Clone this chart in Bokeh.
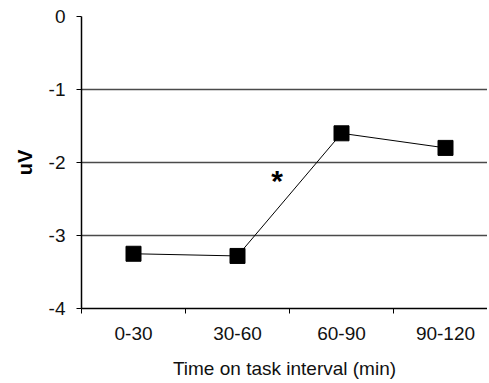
from bokeh.plotting import figure
from bokeh.models import Range1d, FixedTicker, ColumnDataSource, Label
from bokeh.embed import file_html
from bokeh.resources import INLINE

categories = ["0-30", "30-60", "60-90", "90-120"]
values = [-3.25, -3.28, -1.6, -1.8]
y_ticks = [0, -1, -2, -3, -4]
y_tick_labels = ["0", "-1", "-2", "-3", "-4"]

xpos = [i + 0.5 for i in range(len(categories))]
src = ColumnDataSource(dict(x=xpos, y=values))

FONT = "Liberation Sans"

p = figure(width=487, height=382, output_backend="svg", toolbar_location=None,
           x_range=Range1d(0, 406 / 104), y_range=Range1d(-4, 0))
p.min_border_left = 81
p.min_border_top = 16
p.min_border_right = 0
p.min_border_bottom = 74
p.outline_line_color = None
p.background_fill_color = "white"
p.border_fill_color = "white"

p.line("x", "y", source=src, line_color="black", line_width=1)
p.scatter("x", "y", source=src, marker="square", size=15, fill_color="black", line_color="black")

p.add_layout(Label(x=1.88, y=-2.25, text="*", text_font=FONT, text_font_size="30px",
                   text_font_style="bold", text_align="center", text_baseline="middle",
                   text_color="black"))

# y axis
p.yaxis.ticker = FixedTicker(ticks=y_ticks)
p.yaxis.major_label_overrides = {t: s for t, s in zip(y_ticks, y_tick_labels)}
p.yaxis.axis_line_color = "black"
p.yaxis.axis_line_width = 1.5
p.yaxis.major_tick_in = 0
p.yaxis.major_tick_out = 5
p.yaxis.major_tick_line_color = "black"
p.yaxis.minor_tick_line_color = None
p.yaxis.major_label_standoff = 11
p.yaxis.major_label_text_font = FONT
p.yaxis.major_label_text_font_size = "19px"
p.yaxis.major_label_text_color = "#111111"
p.yaxis.axis_label = "uV"
p.yaxis.axis_label_text_font = FONT
p.yaxis.axis_label_text_font_size = "20px"
p.yaxis.axis_label_text_font_style = "bold"
p.yaxis.axis_label_text_color = "black"
p.yaxis.axis_label_standoff = 10

# x axis
p.xaxis.ticker = FixedTicker(ticks=xpos, minor_ticks=[0, 1, 2, 3])
p.xaxis.major_label_overrides = {x: c for x, c in zip(xpos, categories)}
p.xaxis.axis_line_color = "black"
p.xaxis.axis_line_width = 1.5
p.xaxis.major_tick_line_color = None
p.xaxis.major_tick_in = 0
p.xaxis.major_tick_out = 0
p.xaxis.minor_tick_line_color = "black"
p.xaxis.minor_tick_in = 0
p.xaxis.minor_tick_out = 5
p.xaxis.major_label_standoff = 13
p.xaxis.major_label_text_font = FONT
p.xaxis.major_label_text_font_size = "19px"
p.xaxis.major_label_text_color = "#111111"
p.xaxis.axis_label = "Time on task interval (min)"
p.xaxis.axis_label_text_font = FONT
p.xaxis.axis_label_text_font_size = "19px"
p.xaxis.axis_label_text_font_style = "normal"
p.xaxis.axis_label_text_color = "#111111"
p.xaxis.axis_label_standoff = 15

p.xgrid.grid_line_color = None
p.ygrid.ticker = FixedTicker(ticks=y_ticks)
p.ygrid.grid_line_color = "#4a4a4a"
p.ygrid.grid_line_width = 1.5

open("out.html", "w").write(file_html(p, INLINE))
